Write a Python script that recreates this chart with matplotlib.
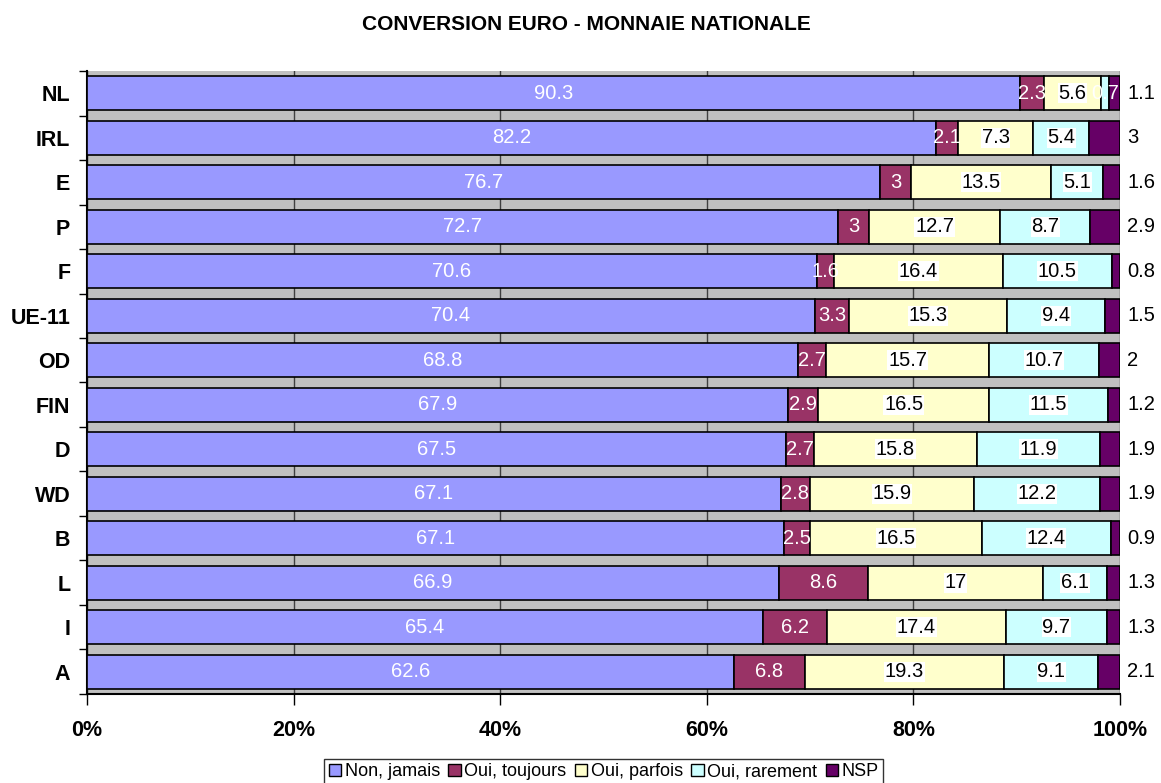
import numpy as np
import matplotlib
matplotlib.use("Agg")
import matplotlib.pyplot as plt
from matplotlib.patches import Patch

plt.rcParams['font.family'] = ['Liberation Sans', 'DejaVu Sans']

countries = ["NL", "IRL", "E", "P", "F", "UE-11", "OD", "FIN", "D", "WD", "B", "L", "I", "A"]
series_names = ["Non, jamais", "Oui, toujours", "Oui, parfois", "Oui, rarement", "NSP"]
non_jamais = [90.3, 82.2, 76.7, 72.7, 70.6, 70.4, 68.8, 67.9, 67.5, 67.1, 67.1, 66.9, 65.4, 62.6]
oui_toujours = [2.3, 2.1, 3, 3, 1.6, 3.3, 2.7, 2.9, 2.7, 2.8, 2.5, 8.6, 6.2, 6.8]
oui_parfois = [5.6, 7.3, 13.5, 12.7, 16.4, 15.3, 15.7, 16.5, 15.8, 15.9, 16.5, 17, 17.4, 19.3]
oui_rarement = [0.7, 5.4, 5.1, 8.7, 10.5, 9.4, 10.7, 11.5, 11.9, 12.2, 12.4, 6.1, 9.7, 9.1]
nsp = [1.1, 3, 1.6, 2.9, 0.8, 1.5, 2, 1.2, 1.9, 1.9, 0.9, 1.3, 1.3, 2.1]
colors = ["#9999FF", "#993366", "#FFFFCC", "#CCFFFF", "#660066"]
xtick_labels = ["0%", "20%", "40%", "60%", "80%", "100%"]

def fmt(v):
    return str(int(v)) if v == int(v) else str(v)

def main():
    data = np.array([non_jamais, oui_toujours, oui_parfois, oui_rarement, nsp])
    shares = data / data.sum(axis=0)  # Excel 100% stacked

    fig = plt.figure(figsize=(11.61, 7.83), dpi=100)
    ax = fig.add_axes([0.0749, 0.1137, 0.8898, 0.7956])
    ax.set_facecolor("#C0C0C0")

    lab_size = 14.5
    y = np.arange(len(countries))
    left = np.zeros(len(countries))
    for k in range(5):
        ax.barh(y, shares[k], left=left, height=0.76, color=colors[k],
                edgecolor="black", linewidth=1.2, zorder=3)
        for i in range(len(countries)):
            cx = left[i] + shares[k][i] / 2
            txt = fmt(data[k][i])
            if k < 2 or (k < 4 and data[k][i] < 1):
                # white labels on dark segments (and the tiny NL one)
                ax.text(cx, y[i], txt, ha="center", va="center", color="white",
                        fontsize=lab_size, zorder=5)
            elif k < 4:
                ax.text(cx, y[i], txt, ha="center", va="center", color="black",
                        fontsize=lab_size, zorder=5,
                        bbox=dict(facecolor="white", edgecolor="none", pad=0.5))
            else:
                ax.text(1.007, y[i], txt, ha="left", va="center", color="black",
                        fontsize=lab_size, zorder=5, transform=ax.get_yaxis_transform())
        left += shares[k]

    ax.set_xlim(0, 1)
    ax.set_ylim(len(countries) - 0.5, -0.5)
    ax.set_xticks(np.linspace(0, 1, 6))
    ax.set_xticklabels(xtick_labels, fontsize=15.5, fontweight="bold")
    ax.set_yticks(y)
    ax.set_yticklabels(countries, fontsize=15.5, fontweight="bold")
    ax.tick_params(axis="y", length=0, pad=12)
    ax.set_yticks(np.arange(len(countries) + 1) - 0.5, minor=True)
    ax.tick_params(axis="y", which="minor", length=6, width=1)
    ax.tick_params(axis="x", length=8, width=1, pad=11)
    ax.grid(axis="x", color="#404040", linewidth=1, zorder=1)
    for s in ["top", "right"]:
        ax.spines[s].set_visible(False)
    ax.spines["left"].set_linewidth(1.5)
    ax.spines["bottom"].set_linewidth(1.5)

    fig.text(0.505, 0.969, "CONVERSION EURO - MONNAIE NATIONALE", ha="center", va="center",
             fontsize=15, fontweight="bold")

    handles = [Patch(facecolor=c, edgecolor="black", linewidth=1) for c in colors]
    leg = fig.legend(handles, series_names, loc="center", bbox_to_anchor=(0.520, 0.0145),
                     ncol=5, fontsize=13, frameon=True, fancybox=False, handlelength=0.7,
                     handleheight=0.7, handletextpad=0.2, columnspacing=0.45,
                     borderpad=0.25, borderaxespad=0)
    leg.get_frame().set_edgecolor("black")
    leg.get_frame().set_linewidth(1)

    fig.savefig("out.png", dpi=100)

if __name__ == "__main__":
    main()
